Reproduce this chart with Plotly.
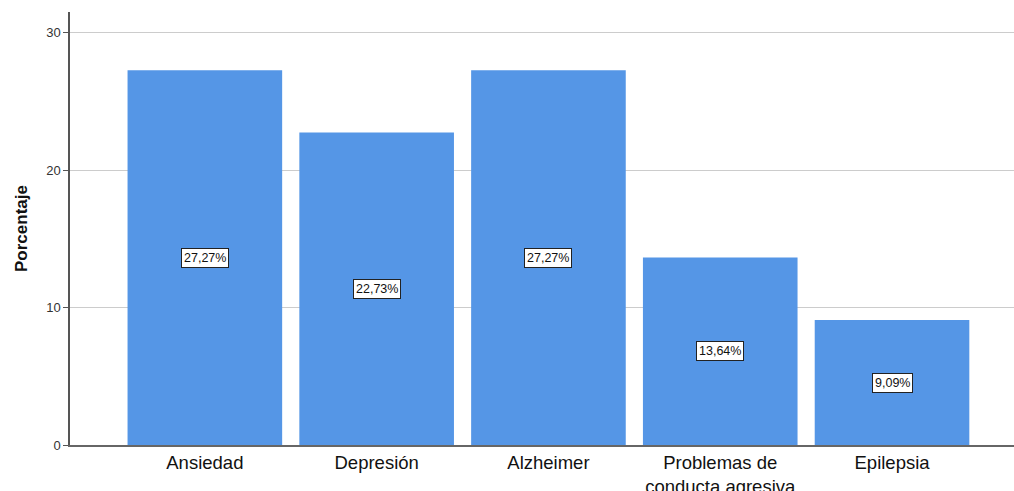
import plotly.graph_objects as go

categories = ["Ansiedad", "Depresión", "Alzheimer", "Problemas de<br>conducta agresiva", "Epilepsia"]
values = [27.27, 22.73, 27.27, 13.64, 9.09]
value_labels = ["27,27%", "22,73%", "27,27%", "13,64%", "9,09%"]
y_ticks = [0, 10, 20, 30]

fig = go.Figure()
fig.add_trace(go.Bar(
    x=list(range(len(categories))), y=values,
    marker=dict(color="#5596E6", line=dict(width=0)),
    width=0.9, hoverinfo="skip",
))

for i, (v, lab) in enumerate(zip(values, value_labels)):
    fig.add_annotation(
        x=i, y=v / 2, text=lab, showarrow=False,
        font=dict(family="Liberation Sans, Arial", size=12.5, color="#111"),
        bgcolor="white", bordercolor="#222", borderwidth=1, borderpad=2,
    )

fig.update_layout(
    width=1014, height=491,
    margin=dict(l=70, r=0, t=12, b=46),
    paper_bgcolor="white", plot_bgcolor="white",
    showlegend=False,
    font=dict(family="Liberation Sans, Arial", color="#222"),
)
fig.update_xaxes(
    tickmode="array", tickvals=list(range(len(categories))), ticktext=categories,
    range=[-0.785, 4.71], showgrid=False, showline=True, linecolor="#666", linewidth=1.5,
    ticks="", tickfont=dict(size=18.5, color="#111"), zeroline=False, automargin=False,
    layer="below traces",
)
fig.update_yaxes(
    range=[0, 31.5], tickvals=y_ticks, showgrid=True, gridcolor="#cccccc", gridwidth=1,
    showline=True, linecolor="#555", linewidth=1.5, ticks="outside", ticklen=5, tickcolor="#555",
    tickfont=dict(size=13, color="#333"), zeroline=False, automargin=False,
    title=dict(text="<b>Porcentaje</b>", font=dict(size=17, color="#111"), standoff=14),
)
fig.write_html(
    "out.html",
    config={"displayModeBar": False},
    post_script="document.body.style.margin='0';document.body.style.overflow='hidden';",
)
